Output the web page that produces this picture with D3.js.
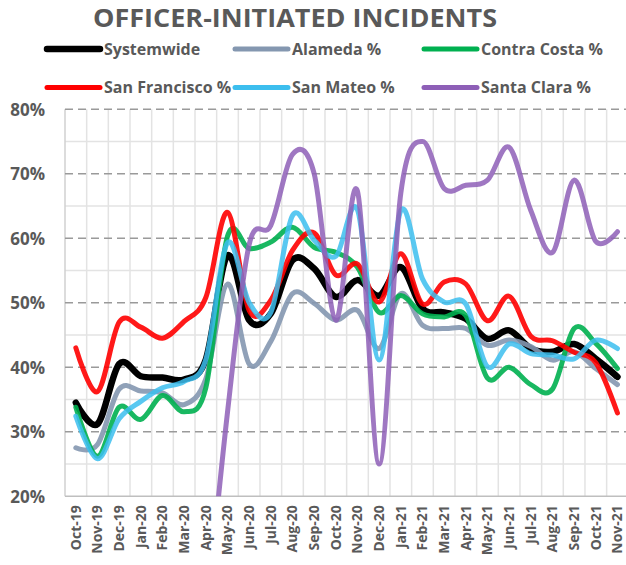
<!DOCTYPE html>
<html>
<head>
<meta charset="utf-8">
<script src="https://cdn.jsdelivr.net/npm/d3@7"></script>
<style>
  body { margin: 0; background: #fff; }
  svg { display: block; font-family: "Open Sans", sans-serif; }
</style>
</head>
<body>
<svg width="626" height="565"></svg>
<script>
var months = ["Oct-19","Nov-19","Dec-19","Jan-20","Feb-20","Mar-20","Apr-20","May-20","Jun-20","Jul-20",
  "Aug-20","Sep-20","Oct-20","Nov-20","Dec-20","Jan-21","Feb-21","Mar-21","Apr-21","May-21",
  "Jun-21","Jul-21","Aug-21","Sep-21","Oct-21","Nov-21"];
var yTicks = [20, 30, 40, 50, 60, 70, 80];

var systemwide = [34.5, 31.2, 40.5, 38.6, 38.4, 38.1, 41.2, 57.3, 47.3, 48.3, 56.6, 55.3, 50.9,
  53.5, 51.1, 55.5, 49.1, 48.5, 47.5, 44.4, 45.7, 42.9, 42.4, 43.6, 41.3, 38.5];
var alameda = [27.5, 28.0, 36.6, 36.3, 36.0, 34.2, 38.2, 52.9, 40.5, 44.0, 51.4, 49.9, 47.3,
  48.8, 42.9, 51.4, 46.5, 46.0, 46.0, 43.4, 44.2, 43.2, 41.1, 42.4, 39.8, 37.3];
var contraCosta = [33.8, 26.2, 33.8, 31.9, 35.6, 33.1, 36.8, 60.3, 58.4, 59.4, 61.7, 58.6, 57.8,
  55.5, 48.5, 51.1, 48.3, 47.8, 48.0, 38.3, 40.0, 37.3, 36.6, 46.0, 43.7, 39.8];
var sanFrancisco = [43.0, 36.2, 47.0, 46.2, 44.5, 47.1, 50.8, 64.0, 48.8, 50.4, 58.1, 60.8, 54.3,
  56.0, 50.1, 57.6, 49.8, 53.2, 52.9, 47.2, 51.0, 44.8, 44.1, 42.3, 40.7, 32.9];
var sanMateo = [32.4, 25.8, 32.0, 34.7, 36.8, 37.8, 41.2, 59.3, 50.0, 48.5, 63.5, 59.7, 57.2,
  64.4, 41.1, 64.3, 53.7, 50.1, 49.8, 40.1, 43.6, 42.1, 41.9, 41.3, 44.2, 42.9];
var santaClara = [null, null, null, null, null, null, 0, 33, 59, 62, 73, 70, 47.3,
  67.3, 25, 67, 75, 67.7, 68.2, 69, 74.1, 64.3, 57.8, 69, 59.5, 61];

var series = [
  {name: "Systemwide", values: systemwide, color: "#000000", width: 6.5, opacity: 1},
  {name: "Alameda %", values: alameda, color: "#8497B0", width: 5, opacity: 0.9},
  {name: "Contra Costa %", values: contraCosta, color: "#00B050", width: 5, opacity: 0.9},
  {name: "San Francisco %", values: sanFrancisco, color: "#FF0000", width: 5, opacity: 0.9},
  {name: "San Mateo %", values: sanMateo, color: "#3CBEEE", width: 5, opacity: 0.85},
  {name: "Santa Clara %", values: santaClara, color: "#8E5FB7", width: 5, opacity: 0.85}
];

var svg = d3.select("svg"),
    plotLeft = 65, plotRight = 628.3, plotTop = 109.2, plotBottom = 496.2,
    textColor = "#595959";

var x = d3.scaleBand().domain(months).range([plotLeft, plotRight]),
    y = d3.scaleLinear().domain([20, 80]).range([plotBottom, plotTop]);

svg.append("defs").append("clipPath").attr("id", "plot")
  .append("rect").attr("x", plotLeft).attr("y", plotTop - 4)
  .attr("width", plotRight - plotLeft).attr("height", plotBottom - plotTop + 4);

// minor gridlines (every 5%)
svg.append("g").selectAll("line")
  .data(d3.range(25, 80, 10))
  .join("line")
  .attr("x1", plotLeft).attr("x2", plotRight)
  .attr("y1", function(d) { return y(d); }).attr("y2", function(d) { return y(d); })
  .attr("stroke", "#e3e3e3").attr("stroke-width", 1.5);

// vertical gridlines at category edges
svg.append("g").selectAll("line")
  .data(months.slice(1))
  .join("line")
  .attr("x1", function(d) { return x(d); }).attr("x2", function(d) { return x(d); })
  .attr("y1", plotTop).attr("y2", plotBottom)
  .attr("stroke", "#e3e3e3").attr("stroke-width", 1.5);

svg.append("line")
  .attr("x1", plotLeft).attr("x2", plotLeft).attr("y1", plotTop).attr("y2", plotBottom)
  .attr("stroke", "#d0d0d0").attr("stroke-width", 1.5);

// major gridlines (dashed)
svg.append("g").selectAll("line")
  .data(yTicks.slice(1))
  .join("line")
  .attr("x1", plotLeft).attr("x2", plotRight)
  .attr("y1", function(d) { return y(d); }).attr("y2", function(d) { return y(d); })
  .attr("stroke", "#9a9a9a").attr("stroke-width", 1.5)
  .attr("stroke-dasharray", "8,5");

svg.append("line")
  .attr("x1", plotLeft).attr("x2", plotRight).attr("y1", y(20)).attr("y2", y(20))
  .attr("stroke", "#bfbfbf").attr("stroke-width", 1.5);

// y axis labels
var yAxis = svg.append("g")
  .attr("transform", "translate(" + (plotLeft - 20) + ",0)")
  .call(d3.axisLeft(y).tickValues(yTicks).tickSize(0).tickFormat(function(d) { return d + "%"; }));
yAxis.select(".domain").remove();
yAxis.selectAll("text")
  .attr("x", 0).attr("dy", "0.35em")
  .attr("fill", textColor).attr("font-size", 17).attr("font-weight", "bold")
  .attr("font-family", "Open Sans, sans-serif");

// x axis labels
var xAxis = svg.append("g")
  .attr("transform", "translate(0," + plotBottom + ")")
  .call(d3.axisBottom(x).tickSize(0));
xAxis.select(".domain").remove();
xAxis.selectAll("text")
  .attr("transform", "translate(0,9) rotate(-90)")
  .attr("x", 0).attr("y", 0).attr("dy", "0.35em")
  .attr("text-anchor", "end")
  .attr("fill", textColor).attr("font-size", 14).attr("font-weight", "bold")
  .attr("font-family", "Open Sans, sans-serif");

// lines
var line = d3.line()
  .defined(function(d) { return d !== null; })
  .x(function(d, i) { return x(months[i]) + x.bandwidth() / 2; })
  .y(function(d) { return y(d); })
  .curve(d3.curveCatmullRom.alpha(0));

svg.append("g").attr("clip-path", "url(#plot)")
  .selectAll("path")
  .data(series)
  .join("path")
  .attr("d", function(s) { return line(s.values); })
  .attr("fill", "none")
  .attr("stroke", function(s) { return s.color; })
  .attr("stroke-width", function(s) { return s.width; })
  .attr("stroke-opacity", function(s) { return s.opacity; })
  .attr("stroke-linejoin", "round")
  .attr("stroke-linecap", "round");

// title
svg.append("text")
  .attr("x", 93).attr("y", 27)
  .attr("textLength", 404).attr("lengthAdjust", "spacingAndGlyphs")
  .attr("fill", textColor).attr("font-size", 25).attr("font-weight", "bold")
  .text("OFFICER-INITIATED INCIDENTS");

// legend
var legend = svg.append("g").selectAll("g")
  .data(series)
  .join("g")
  .attr("transform", function(s, i) {
    return "translate(" + [45, 233, 422][i % 3] + "," + (i < 3 ? 49 : 87.5) + ")";
  });
legend.append("line")
  .attr("x1", 2).attr("x2", 55)
  .attr("stroke", function(s) { return s.color; })
  .attr("stroke-width", function(s) { return s.width; })
  .attr("stroke-linecap", "round");
legend.append("text")
  .attr("x", 59).attr("dy", "0.36em")
  .attr("fill", textColor).attr("font-size", 16).attr("font-weight", "bold")
  .text(function(s) { return s.name; });
</script>
</body>
</html>
